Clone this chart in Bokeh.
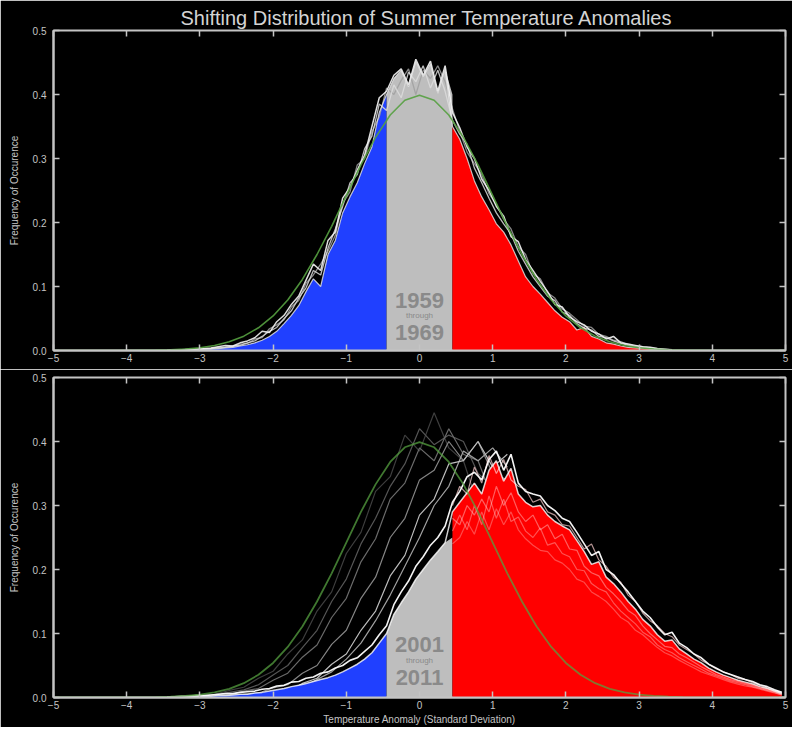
from bokeh.plotting import figure
from bokeh.layouts import column
from bokeh.models import LinearAxis, FixedTicker, CustomJSTickFormatter, NumeralTickFormatter
from bokeh.core.properties import value
from bokeh.embed import file_html
from bokeh.resources import INLINE

TITLE = "Shifting Distribution of Summer Temperature Anomalies"
X_LABEL = "Temperature Anomaly (Standard Deviation)"
Y_LABEL = "Frequency of Occurence"
X_TICKS = [-5, -4, -3, -2, -1, 0, 1, 2, 3, 4, 5]
Y_TICKS = [0.0, 0.1, 0.2, 0.3, 0.4, 0.5]
BLUE_MAX = -0.45
RED_MIN = 0.45
TOP_PERIOD = ["1959", "through", "1969"]
BOT_PERIOD = ["2001", "through", "2011"]

# reference normal curve (green)
GREEN_X = [-5.0, -4.8, -4.6, -4.4, -4.2, -4.0, -3.8, -3.6, -3.4, -3.2,
           -3.0, -2.8, -2.6, -2.4, -2.2, -2.0, -1.8, -1.6, -1.4, -1.2,
           -1.0, -0.8, -0.6, -0.4, -0.2, 0.0, 0.2, 0.4, 0.6, 0.8,
           1.0, 1.2, 1.4, 1.6, 1.8, 2.0, 2.2, 2.4, 2.6, 2.8,
           3.0, 3.2, 3.4, 3.6, 3.8, 4.0, 4.2, 4.4, 4.6, 4.8, 5.0]
GREEN_Y = [0.0, 0.0, 0.0, 0.0, 0.0, 0.0, 0.0003, 0.0006, 0.0012, 0.0024,
           0.0044, 0.0079, 0.0136, 0.0224, 0.0355, 0.054, 0.079, 0.111, 0.150, 0.194,
           0.242, 0.290, 0.333, 0.368, 0.391, 0.399, 0.391, 0.368, 0.333, 0.290,
           0.242, 0.194, 0.150, 0.111, 0.079, 0.054, 0.0355, 0.0224, 0.0136, 0.0079,
           0.0044, 0.0024, 0.0012, 0.0006, 0.0003, 0.0, 0.0, 0.0, 0.0, 0.0, 0.0]

# ---- 1959-1969 panel ----
TOP_X = [-3.45, -3.35, -3.25, -3.15, -3.05, -2.95, -2.85, -2.75, -2.65, -2.55,
         -2.45, -2.35, -2.25, -2.15, -2.05, -1.95, -1.85, -1.75, -1.65, -1.55,
         -1.45, -1.35, -1.25, -1.15, -1.05, -0.95, -0.85, -0.75, -0.65, -0.55,
         -0.45, -0.35, -0.25, -0.15, -0.05, 0.05, 0.15, 0.25, 0.35, 0.45,
         0.55, 0.65, 0.75, 0.85, 0.95, 1.05, 1.15, 1.25, 1.35, 1.45,
         1.55, 1.65, 1.75, 1.85, 1.95, 2.05, 2.15, 2.25, 2.35, 2.45,
         2.55, 2.65, 2.75, 2.85, 2.95, 3.05, 3.15, 3.25, 3.35, 3.45]
TOP_FILL = [.000, .000, .001, .001, .001, .002, .002, .003, .004, .005,
            .007, .009, .012, .016, .022, .030, .042, .055, .070, .092,
            .112, .100, .150, .172, .215, .240, .262, .292, .318, .372,
            .400, .425, .438, .412, .452, .428, .448, .402, .440, .350,
            .330, .300, .265, .240, .220, .198, .185, .165, .140, .115,
            .100, .088, .075, .062, .052, .045, .032, .036, .022, .018,
            .012, .010, .007, .005, .004, .003, .002, .001, .001, .000]
TOP_GREY_RIGHT = 0.40
TOP_L1 = [.000, .001, .001, .002, .002, .003, .004, .006, .008, .007,
          .012, .015, .020, .030, .028, .045, .055, .072, .085, .110,
          .135, .125, .172, .185, .238, .255, .282, .305, .350, .395,
          .405, .430, .440, .415, .455, .430, .452, .405, .445, .372,
          .348, .318, .300, .268, .250, .225, .210, .178, .170, .142,
          .125, .108, .092, .072, .068, .052, .045, .040, .030, .026,
          .018, .022, .012, .010, .008, .006, .005, .003, .002, .001]
TOP_L2 = [.000, .000, .001, .001, .002, .002, .003, .004, .005, .007,
          .008, .012, .015, .022, .030, .036, .050, .062, .082, .098,
          .125, .118, .160, .190, .225, .262, .275, .315, .335, .385,
          .375, .415, .395, .435, .420, .445, .410, .438, .405, .360,
          .338, .322, .285, .262, .238, .215, .198, .182, .155, .135,
          .115, .100, .085, .078, .060, .055, .042, .035, .032, .022,
          .020, .015, .011, .008, .006, .005, .003, .002, .001, .001]
TOP_L3 = [.000, .001, .001, .001, .002, .003, .003, .005, .006, .006,
          .010, .011, .018, .020, .034, .040, .048, .068, .078, .105,
          .118, .135, .155, .180, .230, .248, .290, .300, .342, .365,
          .410, .400, .422, .440, .400, .438, .425, .445, .420, .378,
          .342, .310, .292, .275, .245, .228, .205, .190, .162, .150,
          .120, .112, .090, .082, .065, .058, .048, .038, .036, .025,
          .022, .016, .014, .009, .007, .006, .004, .003, .002, .001]

# ---- 2001-2011 panel ----
BOT_X = [-3.45, -3.35, -3.25, -3.15, -3.05, -2.95, -2.85, -2.75, -2.65, -2.55,
         -2.45, -2.35, -2.25, -2.15, -2.05, -1.95, -1.85, -1.75, -1.65, -1.55,
         -1.45, -1.35, -1.25, -1.15, -1.05, -0.95, -0.85, -0.75, -0.65, -0.55,
         -0.45, -0.35, -0.25, -0.15, -0.05, 0.05, 0.15, 0.25, 0.35, 0.45,
         0.55, 0.65, 0.75, 0.85, 0.95, 1.05, 1.15, 1.25, 1.35, 1.45,
         1.55, 1.65, 1.75, 1.85, 1.95, 2.05, 2.15, 2.25, 2.35, 2.45,
         2.55, 2.65, 2.75, 2.85, 2.95, 3.05, 3.15, 3.25, 3.35, 3.45,
         3.55, 3.65, 3.75, 3.85, 3.95, 4.05, 4.15, 4.25, 4.35, 4.45,
         4.55, 4.65, 4.75, 4.85, 4.95]
BOT_FILL = [.000, .000, .001, .001, .001, .002, .002, .003, .003, .004,
            .005, .005, .007, .008, .010, .012, .014, .017, .019, .022,
            .025, .028, .031, .035, .040, .046, .052, .060, .070, .085,
            .100, .130, .148, .165, .185, .200, .215, .228, .242, .290,
            .305, .320, .335, .318, .355, .370, .338, .358, .318, .305,
            .298, .300, .285, .275, .268, .262, .245, .228, .208, .212,
            .188, .178, .165, .150, .138, .122, .112, .098, .088, .090,
            .076, .068, .060, .054, .046, .040, .035, .031, .027, .024,
            .021, .017, .014, .010, .006]
BOT_GREY_RIGHT = 0.250
BOT_TOP = [.001, .001, .002, .002, .003, .003, .004, .005, .006, .006,
           .008, .009, .010, .013, .014, .018, .019, .024, .025, .030,
           .032, .038, .040, .046, .050, .058, .062, .072, .082, .098,
           .112, .145, .165, .182, .205, .220, .238, .250, .268, .305,
           .322, .345, .352, .340, .372, .385, .355, .380, .335, .322,
           .318, .315, .300, .292, .280, .275, .258, .240, .222, .228,
           .200, .192, .178, .165, .150, .135, .125, .110, .098, .102,
           .085, .078, .068, .062, .052, .046, .040, .036, .032, .028,
           .025, .020, .017, .012, .008]
# individual-year curves inside the red area (x >= 0.45 of BOT_X)
RED_L0 = [.300, .330, .318, .360, .335, .378, .350, .372, .340, .330,
          .325, .305, .310, .290, .285, .270, .268, .250, .232, .240,
          .215, .205, .188, .180, .160, .150, .132, .120, .112, .100,
          .095, .082, .075, .068, .058, .052, .045, .040, .036, .030,
          .028, .023, .019, .015, .011, .007]
RED_L1 = [.280, .270, .300, .285, .310, .290, .330, .300, .320, .290,
          .275, .285, .262, .270, .248, .255, .232, .230, .205, .195,
          .190, .172, .162, .150, .136, .128, .112, .100, .090, .080,
          .078, .068, .062, .055, .048, .042, .036, .032, .028, .025,
          .022, .019, .015, .012, .009, .005]
RED_L2 = [.260, .285, .262, .300, .270, .315, .280, .310, .275, .282,
          .260, .250, .265, .238, .242, .225, .220, .200, .198, .178,
          .170, .165, .148, .135, .125, .115, .102, .095, .082, .075,
          .070, .062, .056, .050, .044, .038, .034, .030, .026, .023,
          .020, .017, .014, .011, .008, .004]
RED_L3 = [.240, .250, .275, .255, .290, .262, .295, .270, .290, .262,
          .248, .238, .230, .228, .215, .210, .200, .185, .180, .165,
          .158, .150, .138, .125, .118, .105, .098, .088, .078, .070,
          .065, .058, .052, .046, .040, .036, .032, .028, .024, .021,
          .018, .016, .013, .010, .007, .004]
# earlier-year curves shown faintly in the lower panel
OLD_X = [-3.4, -3.2, -3.0, -2.8, -2.6, -2.4, -2.2, -2.0, -1.8, -1.6, -1.4, -1.2,
         -1.0, -0.8, -0.6, -0.4, -0.2, 0.0, 0.2, 0.4, 0.6, 0.8, 1.0, 1.2]
OLD_A = [.001, .002, .004, .005, .011, .016, .030, .041, .068, .090, .135, .165,
         .225, .258, .322, .345, .410, .385, .445, .390, .370, .300, .275, .210]
OLD_E = [.000, .001, .003, .004, .008, .012, .020, .035, .050, .078, .105, .150,
         .185, .240, .280, .330, .365, .420, .395, .410, .400, .350, .330, .250]
OLD_B = [.000, .001, .002, .004, .004, .010, .014, .027, .038, .063, .082, .125,
         .155, .212, .248, .310, .335, .390, .370, .420, .380, .370, .310, .290]
OLD_C = [.000, .000, .001, .002, .002, .005, .007, .015, .020, .038, .050, .083,
         .105, .155, .188, .250, .280, .340, .355, .400, .370, .400, .350, .340]
OLD_F = [.000, .000, .000, .001, .002, .002, .004, .006, .012, .016, .028, .040,
         .060, .085, .120, .160, .205, .250, .300, .330, .385, .370, .390, .360]
OLD_D = [.000, .000, .001, .001, .002, .003, .005, .008, .010, .022, .030, .052,
         .068, .105, .135, .190, .222, .285, .310, .365, .370, .400, .360, .380]

AX = "#c4c4c4"
BLUE = "#2040ff"
GREY = "#bebebe"
RED = "#ff0000"
GREEN = "#55a040"
FONT = "Liberation Sans"


def split(xs, ys, grey_right):
    blue = [(x, y) for x, y in zip(xs, ys) if x <= BLUE_MAX + 1e-9]
    grey = [(x, y) for x, y in zip(xs, ys) if BLUE_MAX - 1e-9 <= x < RED_MIN - 1e-9]
    grey.append((RED_MIN, grey_right))
    red = [(x, y) for x, y in zip(xs, ys) if x >= RED_MIN - 1e-9]
    return blue, grey, red


def make(title_text, xlabel, min_top, min_bottom):
    kw = dict(title=title_text) if title_text else {}
    p = figure(frame_width=732, frame_height=320, x_range=(-5, 5), y_range=(0, 0.5),
               output_backend="svg", toolbar_location=None,
               background_fill_color="black", border_fill_color="black",
               min_border_left=53, min_border_right=7,
               min_border_top=min_top, min_border_bottom=min_bottom, **kw)
    p.grid.visible = False
    p.outline_line_color = AX
    p.outline_line_width = 2
    p.xaxis.ticker = FixedTicker(ticks=X_TICKS)
    p.yaxis.ticker = FixedTicker(ticks=Y_TICKS)
    p.yaxis.formatter = NumeralTickFormatter(format="0.0")
    p.yaxis.axis_label = Y_LABEL
    if xlabel:
        p.xaxis.axis_label = xlabel
    for ax in (p.xaxis[0], p.yaxis[0]):
        ax.axis_line_color = AX
        ax.axis_line_width = 2
        ax.major_tick_in = 6
        ax.major_tick_out = 0
        ax.major_tick_line_color = AX
        ax.major_tick_line_width = 1.5
        ax.minor_tick_line_color = None
        ax.major_label_text_color = AX
        ax.major_label_text_font = FONT
        ax.major_label_text_font_size = "10px"
        ax.axis_label_text_color = AX
        ax.axis_label_text_font = FONT
        ax.axis_label_text_font_size = "10px"
        ax.axis_label_text_font_style = "normal"
    p.yaxis.major_label_standoff = 7
    p.yaxis.axis_label_standoff = 10
    p.xaxis.major_label_standoff = 3
    p.xaxis.axis_label_standoff = 2
    for loc, ticks in (("right", Y_TICKS), ("above", X_TICKS)):
        ax = LinearAxis(ticker=FixedTicker(ticks=ticks),
                        formatter=CustomJSTickFormatter(code="return ''"),
                        major_tick_in=6, major_tick_out=0, major_label_standoff=0,
                        major_label_text_font_size="0px",
                        axis_line_color=None, major_tick_line_color=AX,
                        major_tick_line_width=1.5, minor_tick_line_color=None)
        p.add_layout(ax, loc)
    if title_text:
        p.title.text_color = "#d4d4d4"
        p.title.text_font = FONT
        p.title.text_font_size = "20px"
        p.title.text_font_style = "normal"
        p.title.align = "left"
        p.title.offset = 127
        p.title.standoff = 4
    return p


def fills(p, xs, ys, grey_right):
    blue, grey, red = split(xs, ys, grey_right)
    for seg, col in ((blue, BLUE), (grey, GREY), (red, RED)):
        p.varea(x=[a for a, _ in seg], y1=0, y2=[b for _, b in seg], fill_color=col)


def period_text(p, labels, ys):
    p.text(x=[0, 0], y=[ys[0], ys[2]], text=[labels[0], labels[2]],
           text_align="center", text_baseline="middle", text_color="#8a8a8a",
           text_font=value(FONT), text_font_style="bold", text_font_size="22px")
    p.text(x=[0], y=[ys[1]], text=[labels[1]], text_align="center",
           text_baseline="middle", text_color="#8a8a8a",
           text_font=value(FONT), text_font_size="8px")


# top panel
p1 = make(TITLE, None, 30, 19)
fills(p1, TOP_X, TOP_FILL, TOP_GREY_RIGHT)
p1.line(TOP_X, TOP_L3, line_color="#a0a0a0", line_width=1.3, line_alpha=0.85)
p1.line(TOP_X, TOP_L2, line_color="#dcdcdc", line_width=1.3, line_alpha=0.85)
p1.line(TOP_X, TOP_L1, line_color="#f4f4f4", line_width=1.5, line_alpha=0.9)
p1.line(TOP_X, TOP_FILL, line_color="#e8e8e8", line_width=1.2, line_alpha=0.8)
p1.line(GREEN_X, GREEN_Y, line_color=GREEN, line_width=1.6, line_alpha=0.9)
period_text(p1, TOP_PERIOD, [0.078, 0.055, 0.028])

# bottom panel
p2 = make(None, X_LABEL, 8, 28)
for ys, col in ((OLD_A, "#3e3e3e"), (OLD_E, "#555555"), (OLD_B, "#6a6a6a"),
                (OLD_C, "#858585"), (OLD_F, "#a0a0a0"), (OLD_D, "#bcbcbc")):
    p2.line(OLD_X, ys, line_color=col, line_width=1.2)
fills(p2, BOT_X, BOT_FILL, BOT_GREY_RIGHT)
red_x = [x for x in BOT_X if x >= RED_MIN - 1e-9]
for ys, a in ((RED_L3, 0.35), (RED_L2, 0.4), (RED_L1, 0.45), (RED_L0, 0.7)):
    p2.line(red_x, ys, line_color="#ffd0d0", line_width=1.2, line_alpha=a)
p2.line(BOT_X, BOT_FILL, line_color="#ffffff", line_width=1.5, line_alpha=0.8)
p2.line(BOT_X, BOT_TOP, line_color="#ffffff", line_width=1.6, line_alpha=0.95)
period_text(p2, BOT_PERIOD, [0.083, 0.058, 0.031])
p2.line(GREEN_X, GREEN_Y, line_color=GREEN, line_width=1.8, line_alpha=0.75)

layout = column(p1, p2, spacing=0)
open("out.html", "w").write(file_html(layout, INLINE))
